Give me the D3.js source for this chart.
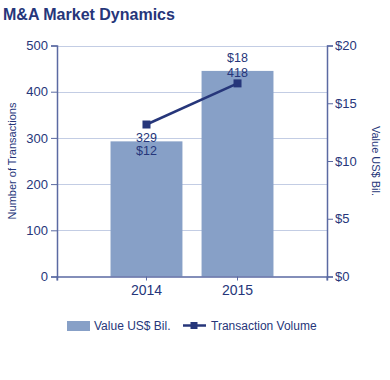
<!DOCTYPE html>
<html><head><meta charset="utf-8">
<script src="https://cdn.jsdelivr.net/npm/d3@7"></script>
<style>body{margin:0;background:#fff;font-family:"Liberation Sans",Arial,sans-serif;}</style>
</head><body><svg id="c" width="390" height="380"></svg>
<script>
const categories = ["2014", "2015"];
const valueBil = [11.7, 17.8];
const valueLabels = ["$12", "$18"];
const transactions = [329, 418];
const leftTicks = [0, 100, 200, 300, 400, 500];
const rightTicks = [0, 5, 10, 15, 20];

const navy = "#26367a", barColor = "#87a0c7", gridColor = "#c3cde4", axisColor = "#5b6aa2";
const svg = d3.select("#c");
const L = 57, R = 327, T = 45.5, B = 276.5;

const x = d3.scaleBand().domain(categories).range([L, R]).paddingInner(0.21).paddingOuter(0.588);
const yL = d3.scaleLinear().domain([0, 500]).range([B, T]);
const yR = d3.scaleLinear().domain([0, 20]).range([B, T]);

svg.append("text").attr("x", 3).attr("y", 19.5).attr("fill", navy)
  .attr("font-size", 16).attr("font-weight", "bold").text("M&A Market Dynamics");

// grid
svg.append("g").selectAll("line").data(leftTicks.filter(d => d > 0)).join("line")
  .attr("x1", L).attr("x2", R).attr("y1", d => Math.round(yL(d)) + 0.5).attr("y2", d => Math.round(yL(d)) + 0.5)
  .attr("stroke", gridColor).attr("stroke-width", 1);

// bars
svg.append("g").selectAll("rect").data(categories).join("rect")
  .attr("x", d => x(d)).attr("width", x.bandwidth())
  .attr("y", (d, i) => yR(valueBil[i])).attr("height", (d, i) => B - yR(valueBil[i]))
  .attr("fill", barColor);

// left axis
const gL = svg.append("g").attr("transform", `translate(${L},0)`)
  .call(d3.axisLeft(yL).tickValues(leftTicks).tickSize(6).tickPadding(3));
// right axis
const gR = svg.append("g").attr("transform", `translate(${R},0)`)
  .call(d3.axisRight(yR).tickValues(rightTicks).tickFormat(d => "$" + d).tickSize(6).tickPadding(2));
// bottom axis
const gB = svg.append("g").attr("transform", `translate(0,${B})`)
  .call(d3.axisBottom(x).tickSize(4).tickPadding(5).tickSizeOuter(4));
[gL, gR, gB].forEach(g => {
  g.select(".domain").attr("stroke", axisColor).attr("stroke-width", 1.5);
  g.selectAll(".tick line").attr("stroke", axisColor);
  g.selectAll("text").attr("fill", navy).attr("font-family", "Liberation Sans, Arial, sans-serif").attr("font-size", 13);
});
gB.selectAll("text").attr("font-size", 14);
gB.selectAll(".end").data([L, R]).join("line").attr("class", "end")
  .attr("x1", d => d).attr("x2", d => d).attr("y1", 0).attr("y2", 4).attr("stroke", axisColor);

// axis titles
svg.append("text").attr("transform", `translate(16,${(T + B) / 2}) rotate(-90)`)
  .attr("text-anchor", "middle").attr("fill", navy).attr("font-size", 11).text("Number of Transactions");
svg.append("text").attr("transform", `translate(372,${(T + B) / 2}) rotate(90)`)
  .attr("text-anchor", "middle").attr("fill", navy).attr("font-size", 11).text("Value US$ Bil.");

// line
const cx = d => x(d) + x.bandwidth() / 2;
svg.append("path").datum(categories)
  .attr("d", d3.line().x(d => cx(d)).y((d, i) => yL(transactions[i])))
  .attr("fill", "none").attr("stroke", navy).attr("stroke-width", 2.5);
svg.append("g").selectAll("rect").data(categories).join("rect")
  .attr("x", d => cx(d) - 4).attr("y", (d, i) => yL(transactions[i]) - 4)
  .attr("width", 8).attr("height", 8).attr("fill", navy);

// data labels
const lab = svg.append("g").attr("fill", navy).attr("font-size", 12.5).attr("text-anchor", "middle");
lab.append("text").attr("x", cx(categories[0])).attr("y", yL(transactions[0]) + 17).text(transactions[0]);
lab.append("text").attr("x", cx(categories[0])).attr("y", yL(transactions[0]) + 30).text(valueLabels[0]);
lab.append("text").attr("x", cx(categories[1])).attr("y", yL(transactions[1]) - 21).text(valueLabels[1]);
lab.append("text").attr("x", cx(categories[1])).attr("y", yL(transactions[1]) - 6.5).text(transactions[1]);

// legend
const lg = svg.append("g").attr("fill", navy).attr("font-size", 12);
lg.append("rect").attr("x", 67).attr("y", 321).attr("width", 23).attr("height", 10).attr("fill", barColor);
lg.append("text").attr("x", 94).attr("y", 330).text("Value US$ Bil.");
lg.append("line").attr("x1", 183).attr("x2", 206).attr("y1", 325.5).attr("y2", 325.5).attr("stroke", navy).attr("stroke-width", 2.5);
lg.append("rect").attr("x", 190.5).attr("y", 322).attr("width", 7).attr("height", 7).attr("fill", navy);
lg.append("text").attr("x", 211).attr("y", 330).text("Transaction Volume");
</script></body></html>
